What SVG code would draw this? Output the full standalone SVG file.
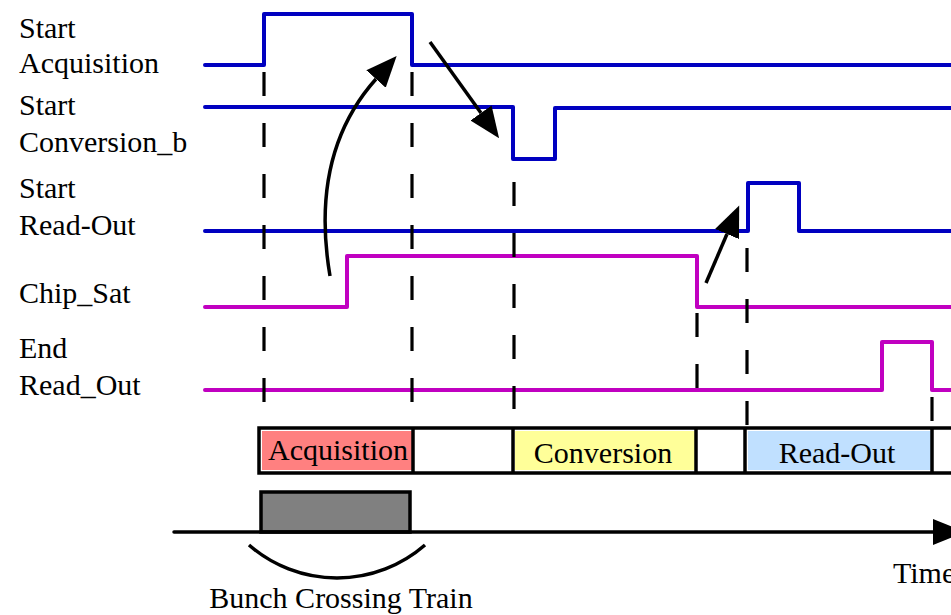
<svg xmlns="http://www.w3.org/2000/svg" width="951" height="615" viewBox="0 0 951 615">
  <style>
    .lbl { font-family: "Liberation Serif", "Times New Roman", serif; font-size: 30px; fill: #000; }
    .sig { fill: none; stroke-width: 4; stroke-linecap: round; stroke-linejoin: round; }
    .blue { stroke: #0000C0; }
    .mag { stroke: #C000C0; }
    .dash { fill: none; stroke: #000; stroke-width: 3.2; stroke-dasharray: 24 27; }
    .box { stroke: #000; stroke-width: 3.5; }
    .arrow { fill: none; stroke: #000; stroke-width: 3.5; }
  </style>
  <defs>
    <marker id="head" markerUnits="userSpaceOnUse" markerWidth="34" markerHeight="28" refX="0" refY="13" orient="auto" viewBox="0 0 34 26">
      <path d="M0,0 L31,13 L0,26 Z" fill="#000"/>
    </marker>
    <marker id="axisHead" markerUnits="userSpaceOnUse" markerWidth="34" markerHeight="28" refX="0" refY="13" orient="auto" viewBox="0 0 34 26">
      <path d="M0,0 L32,13 L0,26 Z" fill="#000"/>
    </marker>
  </defs>

  <!-- signal names -->
  <g id="labels">
    <text class="lbl" x="19" y="38">Start</text>
    <text class="lbl" x="19" y="73">Acquisition</text>
    <text class="lbl" x="19" y="115">Start</text>
    <text class="lbl" x="19" y="152">Conversion_b</text>
    <text class="lbl" x="19" y="198">Start</text>
    <text class="lbl" x="19" y="235">Read-Out</text>
    <text class="lbl" x="19" y="303">Chip_Sat</text>
    <text class="lbl" x="19" y="358">End</text>
    <text class="lbl" x="19" y="395">Read_Out</text>
  </g>

  <!-- waveforms -->
  <g id="sig-start-acq">
    <path class="sig blue" d="M205,65 H264 V14 H412 V65 H955"/>
  </g>
  <g id="sig-start-conv">
    <path class="sig blue" d="M205,107 H513 V159 H555 V108 H955"/>
  </g>
  <g id="sig-start-ro">
    <path class="sig blue" d="M205,231 H748 V183 H799 V231 H955"/>
  </g>
  <g id="sig-chip-sat">
    <path class="sig mag" d="M205,307 H347 V256 H697 V307 H955"/>
  </g>
  <g id="sig-end-ro">
    <path class="sig mag" d="M205,390 H882 V342 H932 V390 H955"/>
  </g>

  <!-- timing markers -->
  <g id="guides">
    <line class="dash" x1="264" y1="72" x2="264" y2="403"/>
    <line class="dash" x1="412" y1="72" x2="412" y2="403"/>
    <line class="dash" x1="514" y1="182" x2="514" y2="409"/>
    <line class="dash" x1="697" y1="313" x2="697" y2="390"/>
    <line class="dash" x1="747" y1="248" x2="747" y2="428"/>
    <line class="dash" x1="932" y1="397" x2="932" y2="428"/>
  </g>

  <!-- causal arrows -->
  <g id="connectors">
    <path class="arrow" d="M330,276 C318,205 326,135 376,79" marker-end="url(#head)"/>
    <path class="arrow" d="M430,42 L481,113" marker-end="url(#head)"/>
    <path class="arrow" d="M706,283 L727,234" marker-end="url(#head)"/>
  </g>

  <!-- phase bar -->
  <g id="phases">
    <rect x="262" y="431" width="150" height="39" fill="#FF8080"/>
    <rect x="515" y="431" width="180" height="39" fill="#FFFF99"/>
    <rect x="748" y="431" width="183" height="39" fill="#C0E0FF"/>
    <path class="box" fill="none" d="M955,428 H259 V473 H955"/>
    <line class="box" x1="413" y1="428" x2="413" y2="473"/>
    <line class="box" x1="513" y1="428" x2="513" y2="473"/>
    <line class="box" x1="696" y1="428" x2="696" y2="473"/>
    <line class="box" x1="745" y1="428" x2="745" y2="473"/>
    <line class="box" x1="932" y1="428" x2="932" y2="473"/>
    <text class="lbl" x="338" y="460" text-anchor="middle">Acquisition</text>
    <text class="lbl" x="603" y="463" text-anchor="middle">Conversion</text>
    <text class="lbl" x="837" y="463" text-anchor="middle">Read-Out</text>
  </g>

  <!-- bunch crossing train and time axis -->
  <g id="bunch-train">
    <rect x="261" y="492" width="149" height="40" fill="#808080" stroke="#000" stroke-width="3.5"/>
    <path class="arrow" d="M249,545 A134,134 0 0 0 425,545"/>
    <text class="lbl" x="341" y="608" text-anchor="middle">Bunch Crossing Train</text>
  </g>
  <g id="time-axis">
    <line x1="174" y1="532" x2="933" y2="532" stroke="#000" stroke-width="3.5" stroke-linecap="round" marker-end="url(#axisHead)"/>
    <text class="lbl" x="893" y="583">Time</text>
  </g>
</svg>
